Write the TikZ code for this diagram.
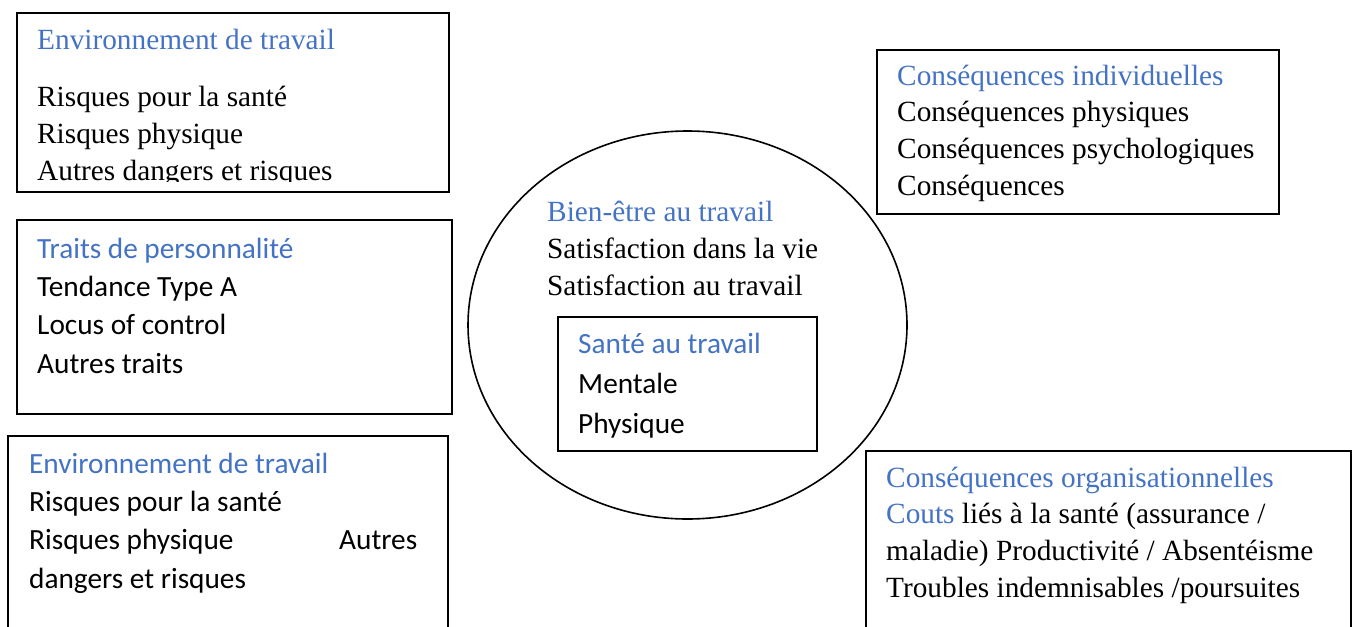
\documentclass[tikz,border=0pt]{standalone}
\usepackage{fontspec}
\setmainfont{Liberation Serif}
\newfontfamily\calibri{Carlito}
\usetikzlibrary{shapes.geometric}
\definecolor{titleBlue}{RGB}{68,114,196}

\begin{document}
\begin{tikzpicture}[x=1pt, y=-1pt,
    frame/.style={draw, line width=2pt, inner sep=0pt, anchor=north west},
    serifTxt/.style={anchor=base west, align=left, inner sep=0pt,
      font=\fontsize{29.3}{36.6}\selectfont},
    sansTxt/.style={anchor=base west, align=left, inner sep=0pt,
      font=\calibri\fontsize{29.3}{38.3}\selectfont}]
      \useasboundingbox (0,0) rectangle (1356,626);
      \clip (0,0) rectangle (1356,626);

      % left column
      \node[frame, minimum width=432pt, minimum height=179pt] (envBox) at (16,12) {};
      \node[frame, minimum width=435pt, minimum height=194pt] (traitsBox) at (16,219) {};
      \node[frame, minimum width=440pt, minimum height=220pt] (envBoxB) at (7,435) {};

      % centre
      \node[draw, ellipse, line width=1.6pt, minimum width=439pt, minimum height=388pt] (bienEtre) at (687.5,325) {};
      \node[frame, minimum width=259pt, minimum height=134pt] (santeBox) at (557,316) {};

      % right column
      \node[frame, minimum width=402pt, minimum height=164pt] (consIndBox) at (876,49) {};
      \node[frame, minimum width=485pt, minimum height=200pt] (consOrgBox) at (865,450) {};

      % texts (placed at the baseline of their last line)
      \begin{scope}
        \clip (16,12) rectangle (448,181);
        \node[serifTxt] (envTxt) at (37,180) {\textcolor{titleBlue}{Environnement de travail}\\[20.4pt]
          Risques pour la santé\\ Risques physique\\ Autres dangers et risques};
      \end{scope}
      \node[sansTxt] (traitsTxt) at (37,373) {\textcolor{titleBlue}{Traits de personnalité}\\
        Tendance Type A\\ Locus of control\\ Autres traits};
      \node[sansTxt] (envTxtB) at (29,588) {\textcolor{titleBlue}{Environnement de travail}\\
        Risques pour la santé\\ \makebox[388pt][l]{Risques physique\hfill Autres}\\ dangers et risques};

      \node[serifTxt] (bienTxt) at (547,295) {\textcolor{titleBlue}{Bien-être au travail}\\
        Satisfaction dans la vie\\ Satisfaction au travail};
      \node[sansTxt, font=\calibri\fontsize{29.3}{40}\selectfont] (santeTxt) at (578,433) {\textcolor{titleBlue}{Santé au travail}\\
        Mentale\\ Physique};

      \node[serifTxt] (consIndTxt) at (897,195) {\textcolor{titleBlue}{Conséquences individuelles}\\
        Conséquences physiques\\ Conséquences psychologiques\\ Conséquences};
      \node[serifTxt] (consOrgTxt) at (886,597) {\textcolor{titleBlue}{Conséquences organisationnelles}\\
        \textcolor{titleBlue}{Couts} liés à la santé (assurance /\\ maladie) Productivité / Absentéisme\\
        Troubles indemnisables /poursuites};
    \end{tikzpicture}
\end{document}
